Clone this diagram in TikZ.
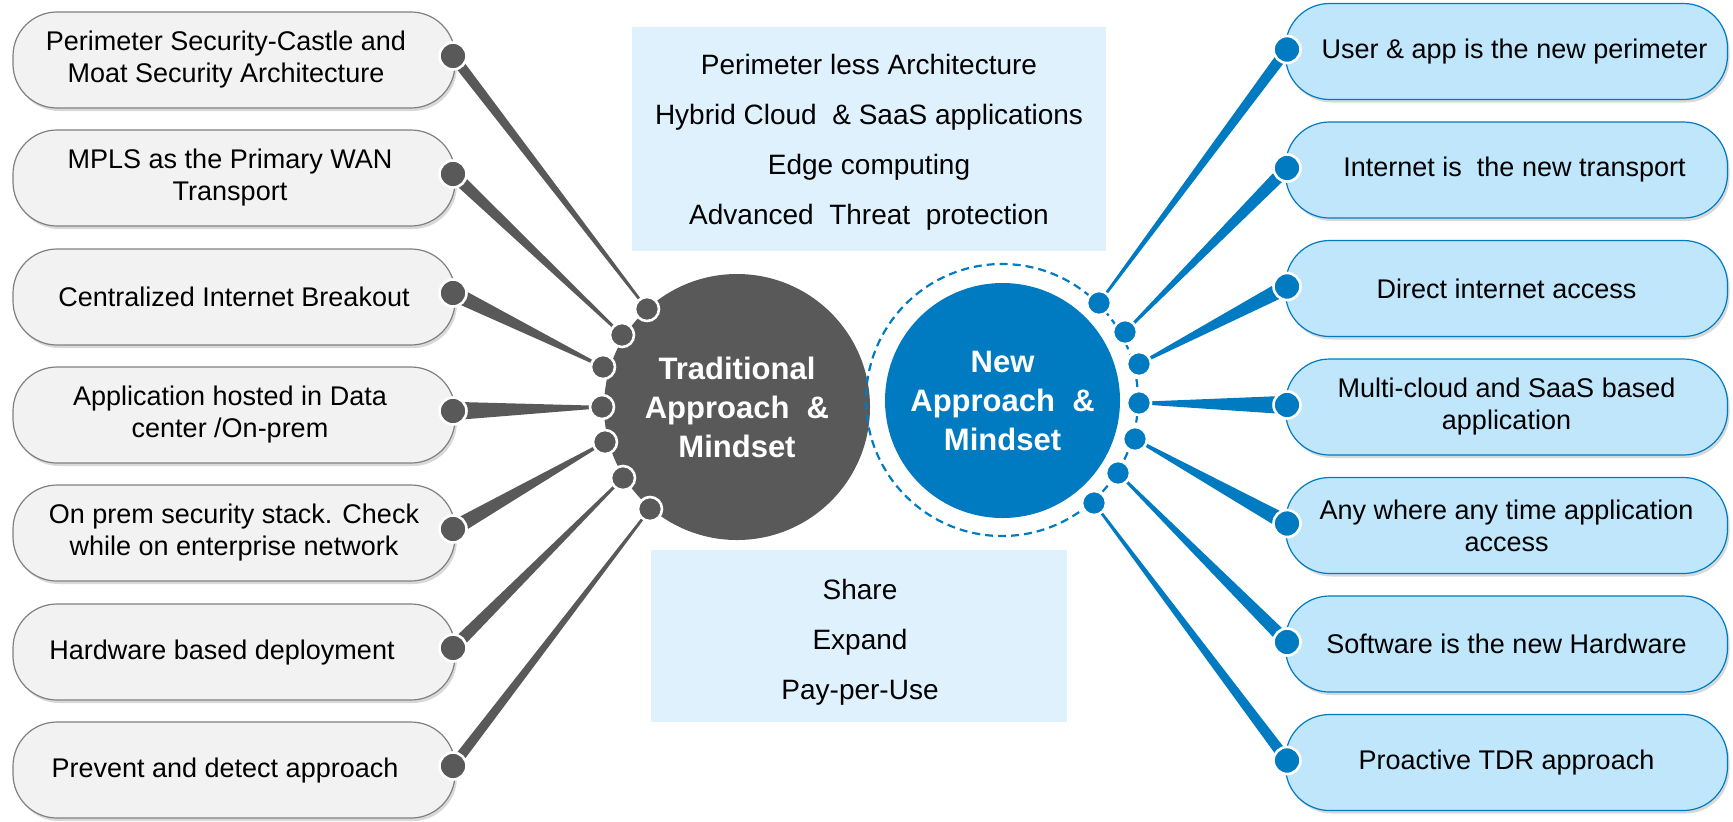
\documentclass[tikz,border=0pt]{standalone}
\usepackage{fontspec}
\setmainfont{Liberation Sans}
\usetikzlibrary{calc,shadows}
\definecolor{darkg}{HTML}{595959}
\definecolor{blueC}{RGB}{0,123,194}
\definecolor{lboxfill}{HTML}{F2F2F2}
\definecolor{lboxdraw}{HTML}{808080}
\definecolor{rboxfill}{RGB}{191,230,251}
\definecolor{infofill}{RGB}{223,241,253}
\newcommand\myconn[4]{%
  \fill[#4] ($(#1)!#3!90:(#2)$) -- ($(#2)!0.6pt!-90:(#1)$) -- ($(#2)!0.6pt!90:(#1)$) -- ($(#1)!#3!-90:(#2)$) -- cycle;}
\begin{document}
\begin{tikzpicture}[x=0.5pt,y=-0.5pt,
  lbox/.style={draw=lboxdraw, fill=lboxfill, line width=0.6pt, rounded corners=22pt,
    minimum width=221pt, minimum height=48pt, align=center, inner sep=0pt,
    font=\fontsize{13.5}{16}\selectfont,
    drop shadow={opacity=0.3, shadow xshift=1pt, shadow yshift=-1.5pt}},
  rboxx/.style={lbox, draw=blueC, fill=rboxfill},
  info/.style={fill=infofill, inner sep=0pt, align=center, font=\fontsize{14}{25}\selectfont},
  bdotL/.style={circle, fill=darkg, draw=white, line width=1.3pt, minimum size=13.5pt, inner sep=0pt},
  bdotR/.style={bdotL, fill=blueC},
  cdotL/.style={circle, fill=darkg, draw=white, line width=1.3pt, minimum size=12pt, inner sep=0pt},
  cdotR/.style={cdotL, fill=blueC},
  hub/.style={circle, inner sep=0pt, align=center, text=white,
    font=\bfseries\fontsize{15.5}{19.5}\selectfont}
]
\useasboundingbox (0,0) rectangle (1733,821);

% dot positions
\coordinate (ld1) at (453,56);  \coordinate (ld2) at (453,174);
\coordinate (ld3) at (453,293); \coordinate (ld4) at (453,411);
\coordinate (ld5) at (453,529); \coordinate (ld6) at (453,648);
\coordinate (ld7) at (453,766);
\coordinate (cl1) at (647,309); \coordinate (cl2) at (622,335);
\coordinate (cl3) at (603,367); \coordinate (cl4) at (602,407);
\coordinate (cl5) at (605,442); \coordinate (cl6) at (623,478);
\coordinate (cl7) at (650,509);
\coordinate (rd1) at (1287,49.5); \coordinate (rd2) at (1287,168);
\coordinate (rd3) at (1287,286.5); \coordinate (rd4) at (1287,405);
\coordinate (rd5) at (1287,523.5); \coordinate (rd6) at (1287,642);
\coordinate (rd7) at (1287,760.5);
\coordinate (cr1) at (1099,303); \coordinate (cr2) at (1125,332);
\coordinate (cr3) at (1139,364); \coordinate (cr4) at (1139,403);
\coordinate (cr5) at (1135,439); \coordinate (cr6) at (1118,473);
\coordinate (cr7) at (1094,503);

% info boxes
\node[info, minimum width=237pt, minimum height=112pt] (topbox) at (869,139) {};
\node[info] (toptext) at (869,142.5) {Perimeter less Architecture\\Hybrid Cloud\ \ \& SaaS applications\\Edge computing\\Advanced\ \ Threat\ \ protection};
\node[info, minimum width=208pt, minimum height=86pt] (botbox) at (859,636) {};
\node[info] (bottext) at (860,642) {Share\\Expand\\Pay-per-Use};

% left boxes
\node[lbox] (l1) at (234,60)  {\hspace*{-8pt}Perimeter Security-Castle and\\\hspace*{-8pt}Moat Security Architecture};
\node[lbox] (l2) at (234,178) {\hspace*{-4pt}MPLS as the Primary WAN\\\hspace*{-4pt}Transport};
\node[lbox] (l3) at (234,297) {Centralized Internet Breakout};
\node[lbox] (l4) at (234,415) {\hspace*{-4pt}Application hosted in Data\\\hspace*{-4pt}center /On-prem};
\node[lbox] (l5) at (234,533) {On prem security stack. Check\\while on enterprise network};
\node[lbox] (l6) at (234,652) {\hspace*{-12pt}Hardware based deployment};
\node[lbox] (l7) at (234,770) {\hspace*{-9pt}Prevent and detect approach};

% right boxes
\node[rboxx] (r1) at (1506.5,51.5)  {\hspace*{8pt}User \& app is the new perimeter};
\node[rboxx] (r2) at (1506.5,170)   {\hspace*{8pt}Internet is\ \ the new transport};
\node[rboxx] (r3) at (1506.5,288.5) {Direct internet access};
\node[rboxx] (r4) at (1506.5,407)   {Multi-cloud and SaaS based\\application};
\node[rboxx] (r5) at (1506.5,525.5) {Any where any time application\\access};
\node[rboxx] (r6) at (1506.5,644)   {Software is the new Hardware};
\node[rboxx] (r7) at (1506.5,762.5) {Proactive TDR approach};

% hubs
\node[hub, fill=darkg, minimum size=133pt] (trad) at (737,407) {Traditional\\Approach\ \ \&\\Mindset};
\draw[blueC, line width=1.1pt, dash pattern=on 4pt off 2.5pt] (1002,400) circle[radius=68pt];
\node[hub, fill=blueC, minimum size=117.5pt] (newh) at (1002.5,400.5) {New\\Approach\ \ \&\\Mindset};

% connectors
\myconn{ld1}{cl1}{2.6pt}{darkg}
\myconn{ld2}{cl2}{3.1pt}{darkg}
\myconn{ld3}{cl3}{3.9pt}{darkg}
\myconn{ld4}{cl4}{4.6pt}{darkg}
\myconn{ld5}{cl5}{3.9pt}{darkg}
\myconn{ld6}{cl6}{3.1pt}{darkg}
\myconn{ld7}{cl7}{2.6pt}{darkg}
\myconn{rd1}{cr1}{2.8pt}{blueC}
\myconn{rd2}{cr2}{3.3pt}{blueC}
\myconn{rd3}{cr3}{4pt}{blueC}
\myconn{rd4}{cr4}{4.6pt}{blueC}
\myconn{rd5}{cr5}{4pt}{blueC}
\myconn{rd6}{cr6}{3.3pt}{blueC}
\myconn{rd7}{cr7}{2.8pt}{blueC}

% dots
\foreach \i in {1,...,7} {
  \node[bdotL] (ldot\i) at (ld\i) {};
  \node[cdotL] (cldot\i) at (cl\i) {};
  \node[bdotR] (rdot\i) at (rd\i) {};
  \node[cdotR] (crdot\i) at (cr\i) {};
}
\end{tikzpicture}
\end{document}
